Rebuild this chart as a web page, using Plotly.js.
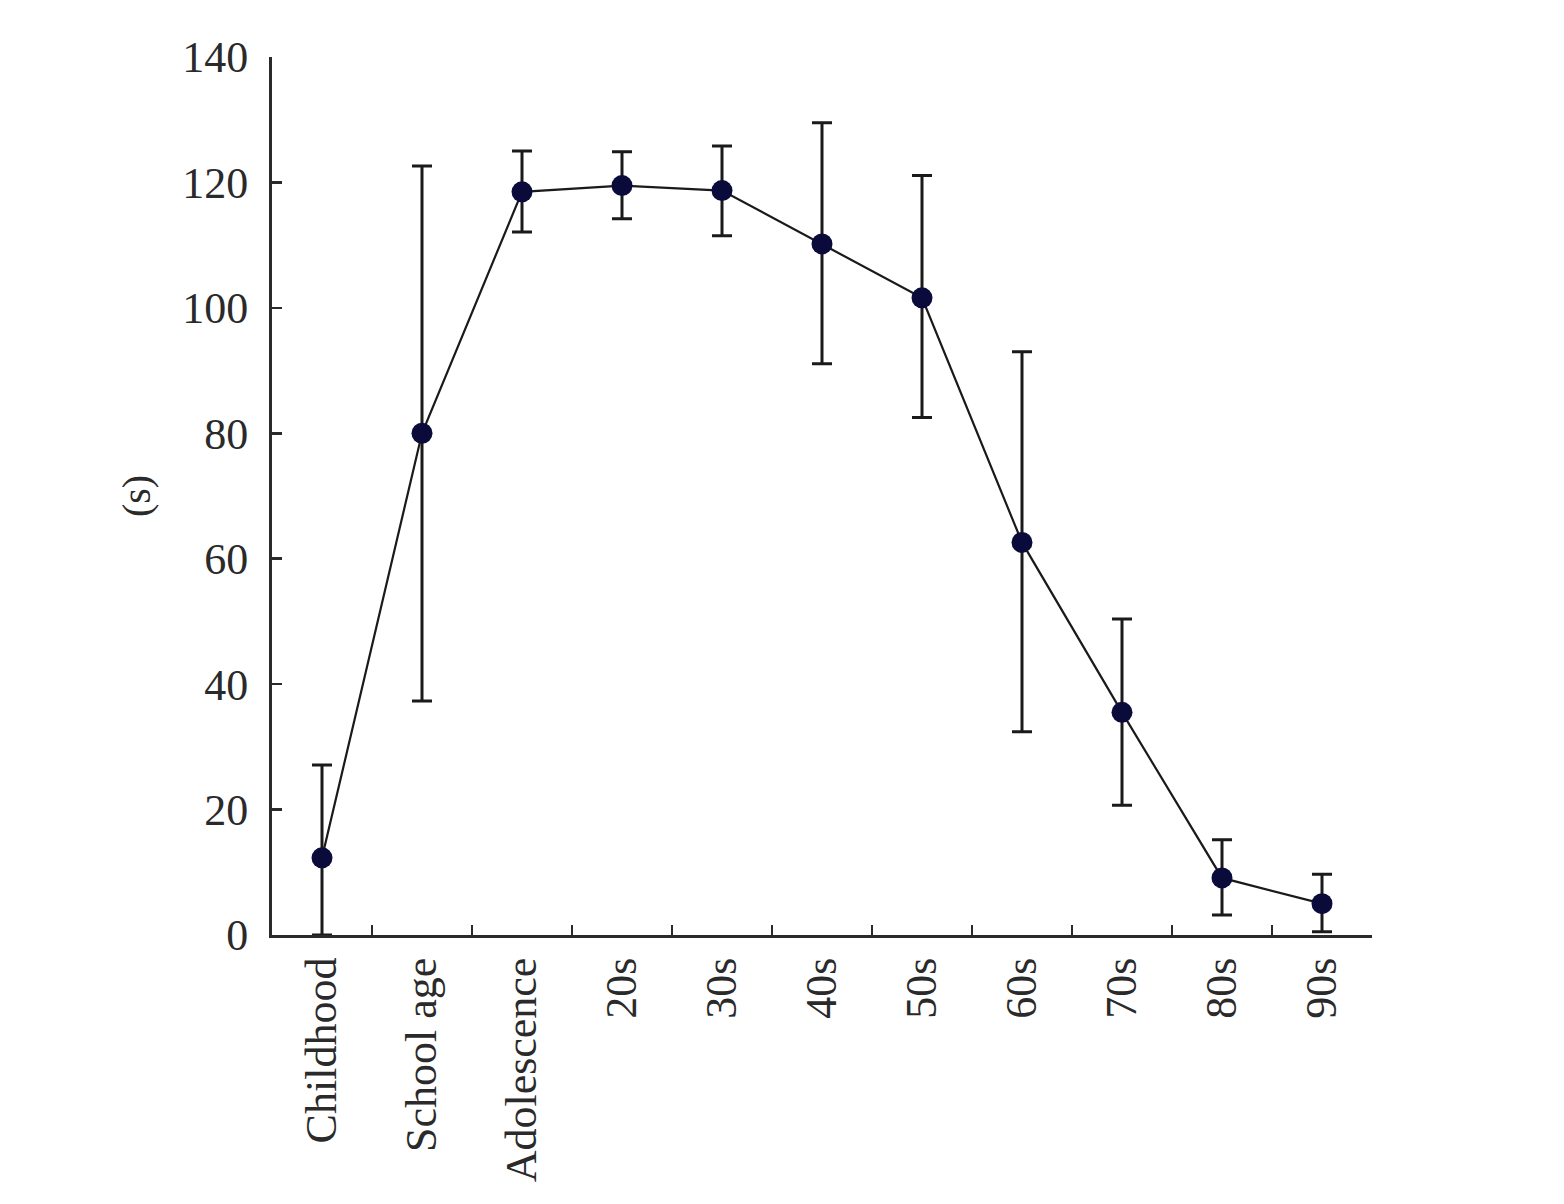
<!DOCTYPE html>
<html>
<head>
<meta charset="utf-8">
<script src="https://cdn.plot.ly/plotly-3.0.1.min.js"></script>
<style>
  html, body { margin: 0; padding: 0; background: #fff; }
  #chart { width: 1564px; height: 1204px; }
</style>
</head>
<body>
<div id="chart"></div>
<script>
const ageGroups = ['Childhood', 'School age', 'Adolescence', '20s', '30s', '40s', '50s', '60s', '70s', '80s', '90s'];
const meanSeconds = [12.3, 80.0, 118.5, 119.5, 118.7, 110.2, 101.6, 62.6, 35.5, 9.1, 5.0];
const errPlus = [14.8, 42.6, 6.5, 5.4, 7.1, 19.3, 19.5, 30.4, 14.9, 6.1, 4.7];
const errMinus = [12.3, 42.7, 6.4, 5.3, 7.2, 19.1, 19.1, 30.2, 14.8, 5.9, 4.5];
const yTicks = [0, 20, 40, 60, 80, 100, 120, 140];

const serif = 'Liberation Serif, Times New Roman, serif';
const ink = '#2a2a2a';

const trace = {
  x: ageGroups,
  y: meanSeconds,
  type: 'scatter',
  mode: 'lines+markers',
  line: { color: '#1a1a1a', width: 2.2 },
  marker: { color: '#0b0b3b', size: 21 },
  error_y: {
    type: 'data',
    symmetric: false,
    array: errPlus,
    arrayminus: errMinus,
    color: '#1a1a1a',
    thickness: 3,
    width: 10
  },
  cliponaxis: false,
  hoverinfo: 'x+y'
};

const layout = {
  width: 1564,
  height: 1204,
  margin: { l: 272, r: 192, t: 57, b: 269 },
  paper_bgcolor: '#fff',
  plot_bgcolor: '#fff',
  showlegend: false,
  font: { family: serif, color: ink, size: 44 },
  xaxis: {
    type: 'category',
    range: [-0.5, 10.5],
    showline: true,
    linecolor: ink,
    linewidth: 3,
    showgrid: false,
    zeroline: false,
    ticks: 'inside',
    tickson: 'boundaries',
    ticklen: 10,
    tickwidth: 2.5,
    tickcolor: ink,
    tickangle: -90,
    ticklabelstandoff: 2,
    tickfont: { family: serif, size: 44, color: ink }
  },
  yaxis: {
    range: [0, 140],
    tickvals: yTicks,
    showline: true,
    linecolor: ink,
    linewidth: 3,
    showgrid: false,
    zeroline: false,
    ticks: 'inside',
    ticklen: 10,
    tickwidth: 2.5,
    tickcolor: ink,
    ticklabelstandoff: 12,
    tickfont: { family: serif, size: 44, color: ink },
    title: { text: '(s)', font: { family: serif, size: 40, color: ink }, standoff: 20 }
  }
};

Plotly.newPlot('chart', [trace], layout, { displayModeBar: false, staticPlot: true });
</script>
</body>
</html>
